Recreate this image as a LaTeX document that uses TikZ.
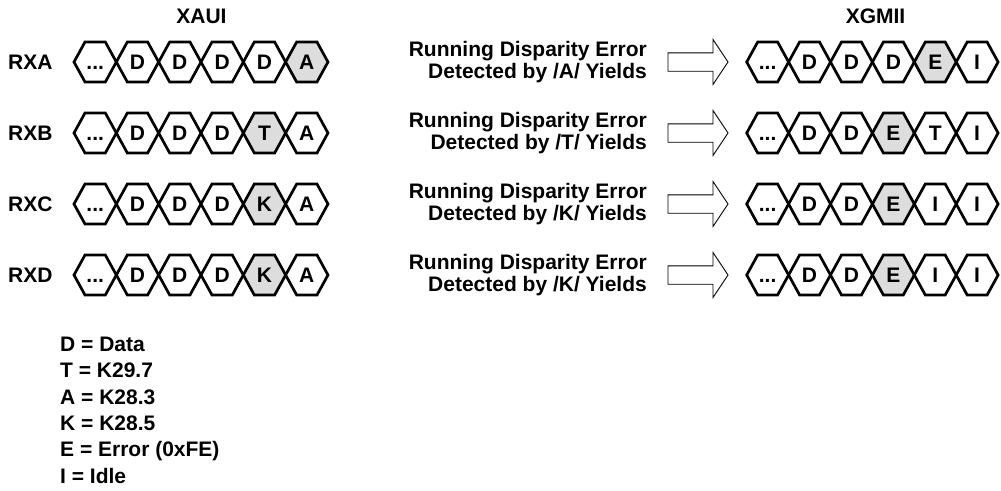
\documentclass[tikz,border=0pt]{standalone}
\usepackage{fontspec}
\setmainfont{Liberation Sans}
\definecolor{hexgray}{RGB}{221,221,221}
\tikzset{
  hexline/.style={line width=2.7pt, line join=miter, draw=black},
  hextext/.style={font=\bfseries\fontsize{21}{23}\selectfont, inner sep=0pt, anchor=base},
  lbl/.style={font=\bfseries\fontsize{21}{23}\selectfont, inner sep=0pt},
  msg/.style={font=\bfseries\fontsize{21}{21.7}\selectfont, inner sep=0pt, align=right, anchor=east},
  legendtext/.style={font=\bfseries\fontsize{21}{26.3}\selectfont, inner sep=0pt, align=left, anchor=north west},
  blockarrow/.style={draw=black, line width=0.9pt, fill=white, line join=miter}
}
\newcommand\dts{...}
% name, left x, centre y, width, text, fill
\newcommand\hexc[6]{%
  \filldraw[hexline, fill=#6] (#2,#3) -- ++(11,-20) -- ++({#4-22},0) -- ++(11,20) -- ++(-11,20) -- ++({22-#4},0) -- cycle;
  \node[hextext] (#1) at ({#2+#4/2},{#3+7.5}) {#5};
}
% prefix, x0, y, width, list
\newcommand\hexrow[5]{%
  \foreach \t/\f [count=\i from 0] in {#5} {\hexc{#1-\i}{#2+\i*#4}{#3}{#4}{\t}{\f}}%
}
\newcommand\blockarr[2]{%
  \draw[blockarrow] (668,{#2-9.2}) -- (713,{#2-9.2}) -- (713,{#2-22.5}) -- (728,#2) coordinate (#1)
    -- (713,{#2+22.5}) -- (713,{#2+9.2}) -- (668,{#2+9.2}) -- cycle;
}
\begin{document}
\begin{tikzpicture}[x=1pt,y=-1pt]
\useasboundingbox (0,0) rectangle (1001,490);
% titles
\node[lbl] (xaui) at (201.5,16) {XAUI};
\node[lbl] (xgmii) at (875.5,16) {XGMII};
% row labels
\node[lbl, anchor=west] (rxa) at (8,62) {RXA};
\node[lbl, anchor=west] (rxb) at (8,133) {RXB};
\node[lbl, anchor=west] (rxc) at (8,204) {RXC};
\node[lbl, anchor=west] (rxd) at (8,275) {RXD};
% XAUI chains
\hexrow{LA}{74}{62}{42.33}{\dts/white, D/white, D/white, D/white, D/white, A/hexgray}
\hexrow{LB}{74}{133}{42.33}{\dts/white, D/white, D/white, D/white, T/hexgray, A/white}
\hexrow{LC}{74}{204}{42.33}{\dts/white, D/white, D/white, D/white, K/hexgray, A/white}
\hexrow{LD}{74}{275}{42.33}{\dts/white, D/white, D/white, D/white, K/hexgray, A/white}
% messages
\node[msg] (ma) at (647,62) {Running Disparity Error\\Detected by /A/ Yields};
\node[msg] (mb) at (647,133) {Running Disparity Error\\Detected by /T/ Yields};
\node[msg] (mc) at (647,204) {Running Disparity Error\\Detected by /K/ Yields};
\node[msg] (md) at (647,275) {Running Disparity Error\\Detected by /K/ Yields};
% block arrows
\blockarr{aa}{62}
\blockarr{ab}{133}
\blockarr{ac}{204}
\blockarr{ad}{275}
% XGMII chains
\hexrow{RA}{746.7}{62}{41.9}{\dts/white, D/white, D/white, D/white, E/hexgray, I/white}
\hexrow{RB}{746.7}{133}{41.9}{\dts/white, D/white, D/white, E/hexgray, T/white, I/white}
\hexrow{RC}{746.7}{204}{41.9}{\dts/white, D/white, D/white, E/hexgray, I/white, I/white}
\hexrow{RD}{746.7}{275}{41.9}{\dts/white, D/white, D/white, E/hexgray, I/white, I/white}
% legend
\node[legendtext] (legend) at (60,337) {D = Data\\T = K29.7\\A = K28.3\\K = K28.5\\E = Error (0xFE)\\I = Idle};
\end{tikzpicture}
\end{document}
